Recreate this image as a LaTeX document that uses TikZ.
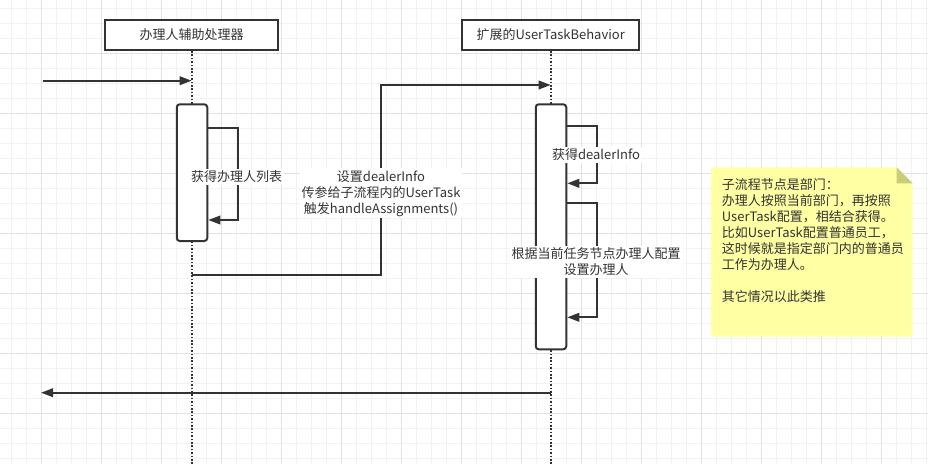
\documentclass[tikz,border=0pt]{standalone}
\usepackage{fontspec}
\setmainfont{Noto Sans CJK SC}
\usetikzlibrary{arrows.meta}

\definecolor{linegray}{HTML}{333333}
\definecolor{gridminor}{HTML}{F2F2F2}
\definecolor{gridmajor}{HTML}{E2E2E2}
\definecolor{notefill}{HTML}{FFFFA3}
\definecolor{notefold}{HTML}{CBCB7C}

\begin{document}
\begin{tikzpicture}[x=1pt,y=-1pt]
  \def\XONE{191.7}
  \def\XTWO{550.7}
  \def\YHEAD{35}
  \def\YIN{80.7}
  \def\YCALL{85}
  \def\YBACK{275}
  \def\XBEND{381}
  \def\YRET{392.7}
  \def\YACT{103.3}
  \def\LOOP{29.5}

  \tikzset{
      every node/.style={text=linegray,font=\fontsize{13}{16}\selectfont},
      head/.style={draw=linegray,line width=2pt,fill=white,
        minimum width=173pt,minimum height=30pt,inner sep=0pt},
      act/.style={draw=linegray,line width=2pt,fill=white,rounded corners=3pt,
        minimum width=30.5pt,anchor=north,inner sep=0pt},
      life/.style={draw=linegray,line width=1.8pt,dash pattern=on 1.6pt off 1.8pt},
      msg/.style={draw=linegray,line width=2pt,
        -{Triangle[length=12pt,width=8.5pt]}},
      lbl/.style={fill=white,inner sep=2pt,align=center},
  }

  \useasboundingbox (0,0) rectangle (928,464);

  % grid
  \foreach \i in {0,...,61}
    \draw [gridminor,line width=0.8pt] ({11.7+15*\i},0) -- ({11.7+15*\i},464);
  \foreach \i in {0,...,30}
    \draw [gridminor,line width=0.8pt] (0,{8.3+15*\i}) -- (928,{8.3+15*\i});
  \foreach \i in {0,...,14}
    \draw [gridmajor,line width=0.8pt] ({41.7+60*\i},0) -- ({41.7+60*\i},464);
  \foreach \i in {0,...,7}
    \draw [gridmajor,line width=0.8pt] (0,{53.3+60*\i}) -- (928,{53.3+60*\i});

  % lifelines
  \node [head] (proc) at (\XONE,\YHEAD) {办理人辅助处理器};
  \node [head,minimum width=177pt] (behav) at (\XTWO,\YHEAD) {扩展的UserTaskBehavior};
  \draw [life] (proc.south) -- (\XONE,464) coordinate (procEnd);
  \draw [life] (behav.south) -- (\XTWO,464) coordinate (behavEnd);

  \node [act,minimum height=136.7pt] (actA) at (\XONE+0.3,\YACT) {};
  \node [act,minimum height=245pt] (actB) at (\XTWO+0.3,\YACT) {};

  % incoming call
  \coordinate (start) at (43,\YIN);
  \draw [msg] (start) -- (proc.south |- start);

  % self call on the helper
  \draw [msg] (actA.east |- 0,128.3) -- ++(\LOOP,0) coordinate (A1)
    -- (A1 |- 0,220) -- (actA.east |- 0,220);
  \node [lbl] (lblA) at (236.7,177) {获得办理人列表};

  % call to the behaviour
  \coordinate (callStart) at (\XONE,\YBACK);
  \coordinate (callTurn) at (\XBEND,\YBACK);
  \draw [msg] (callStart) -- (callTurn) -- (\XBEND,\YCALL)
    -- (behav.south |- 0,\YCALL);
  \node [lbl] (lblCall) at (\XBEND,193.3)
    {设置dealerInfo\\传参给子流程内的UserTask\\触发handleAssignments()};

  % self calls on the behaviour
  \draw [msg] (actB.east |- 0,125.7) -- ++(\LOOP,0) coordinate (B1)
    -- (B1 |- 0,183.3) -- (actB.east |- 0,183.3);
  \node [lbl] (lblB1) at (596,155) {获得dealerInfo};
  \draw [msg] (actB.east |- 0,202.7) -- ++(\LOOP,0) coordinate (B2)
    -- (B2 |- 0,317.3) -- (actB.east |- 0,317.3);
  \node [lbl] (lblB2) at (596,261.7) {根据当前任务节点办理人配置\\设置办理人};

  % return
  \coordinate (retEnd) at (41,\YRET);
  \draw [msg] (behav.south |- retEnd) -- (retEnd);

  % note
  \fill [notefill] (711,167.3) -- (896.7,167.3) -- (912.7,183.3)
    -- (912.7,336.7) -- (711,336.7) -- cycle;
  \fill [notefold] (896.7,167.3) -- (896.7,183.3) -- (912.7,183.3) -- cycle;
  \node [anchor=north west,align=left,inner sep=0pt] (note) at (721.7,178)
    {子流程节点是部门：\\办理人按照当前部门，再按照\\UserTask配置，相结合获得。\\
     比如UserTask配置普通员工，\\这时候就是指定部门内的普通员\\工作为办理人。\\[16pt]
     其它情况以此类推};
\end{tikzpicture}
\end{document}
